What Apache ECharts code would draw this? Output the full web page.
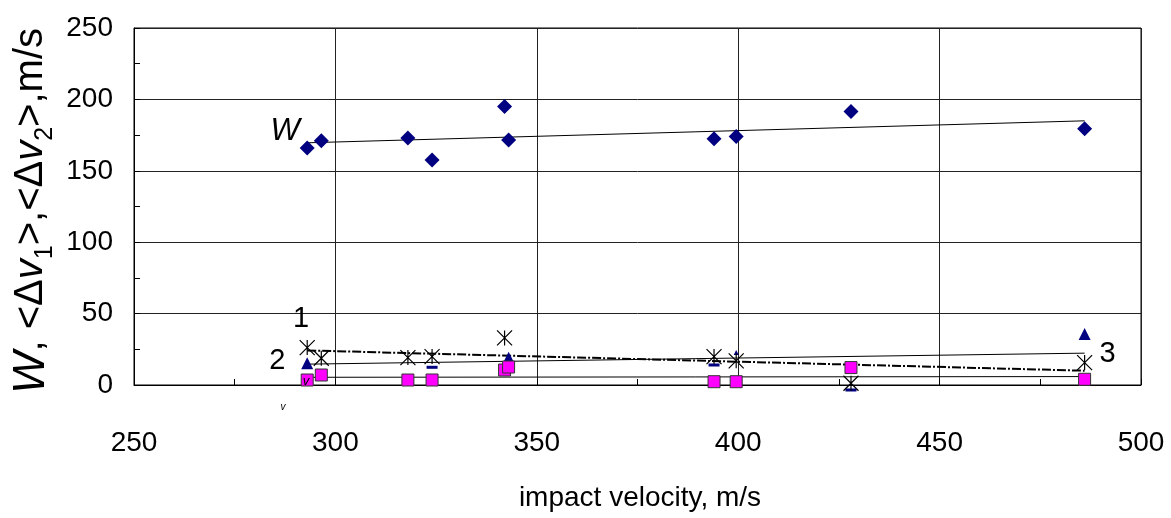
<!DOCTYPE html>
<html>
<head>
<meta charset="utf-8">
<script src="https://cdn.jsdelivr.net/npm/echarts@6/dist/echarts.min.js"></script>
<style>html,body{margin:0;padding:0;background:#fff;}#c{width:1171px;height:518px;}</style>
</head>
<body>
<div id="c"></div>
<script>
// ---- data ----
const impactVelocity = [293, 296.5, 318, 324, 342, 343, 394, 399.5, 428, 486];
const W      = [166, 171, 173, 157.5, 195, 171.5, 172.5, 174, 191.5, 179.5];
const dv1    = [26.2, 18.7, 19.2, 19.9, 33, null, 19.9, 16.9, 1.2, 15.7];      // asterisks
const dv2    = [15.2, null, null, null, null, 19, null, null, null, 35.8];     // triangles
const dv2Tip = [null, null, null, null, null, null, null, 22.8, null, null];   // partly hidden triangle
const dashes = [null, null, null, 12.4, null, null, 14, null, -3.5, null];     // short blue dashes
const dv3    = [3.5, 7, 3.5, 3.5, 10.5, 12.6, 2.3, 2.3, 12.2, 4];              // squares
const trendX   = [293, 486];
const trendW   = [169.6, 185];
const trend1   = [24.2, 10];
const trend2   = [14.6, 22.3];
const trend3   = [5.4, 5.9];
const xTicks = [250, 300, 350, 400, 450, 500];
const yTicks = [0, 50, 100, 150, 200, 250];
const annoText = ['W', '1', '2', '3', 'v', 'v'];
const annoX    = [287.5, 291.5, 285.6, 491.7, 287, 292.7];
const annoY    = [177.5, 46.5, 17, 21.8, -15.4, 2.6];
const annoSize = [31, 29, 29, 29, 10, 13];

const pairs = (xs, ys) => xs.map((x, i) => [x, ys[i]]).filter(p => p[1] !== null);

const chart = echarts.init(document.getElementById('c'), null, {renderer: 'canvas'});
const FONT = "'Liberation Sans', Arial, sans-serif";

const axisCommon = {
  axisLine: {show: true, lineStyle: {color: '#000', width: 1}},
  axisTick: {show: true, inside: true, length: 6, lineStyle: {color: '#000'}},
  minorTick: {show: true, splitNumber: 2, length: 6, lineStyle: {color: '#000'}},
  splitLine: {show: true, lineStyle: {color: '#222', width: 1}},
};

chart.setOption({
  animation: false,
  backgroundColor: '#fff',
  grid: {left: 134, right: 30, top: 28, bottom: 133, show: true, borderColor: '#000', borderWidth: 1},
  xAxis: Object.assign({
    type: 'value', min: xTicks[0], max: xTicks[xTicks.length - 1], interval: 50,
    axisLabel: {color: '#000', fontSize: 28, fontFamily: FONT, margin: 44}
  }, axisCommon),
  yAxis: Object.assign({
    type: 'value', min: yTicks[0], max: yTicks[yTicks.length - 1], interval: 50,
    axisLabel: {color: '#000', fontSize: 28, fontFamily: FONT, margin: 21}
  }, axisCommon),
  graphic: [
    {
      type: 'text', x: 640, y: 498,
      style: {text: 'impact velocity, m/s', fill: '#000', font: '28px ' + FONT, align: 'center', verticalAlign: 'middle'}
    },
    {
      type: 'text', x: 31, y: 211, rotation: Math.PI / 2,
      style: {
        text: '{wi|W}{n|, <Δ}{vi|v}{sub|1}{n|>,<Δ}{vi|v}{sub|2}{n|>,m/s}',
        fill: '#000', align: 'center', verticalAlign: 'middle',
        rich: {
          wi: {fontSize: 45, fontStyle: 'italic', fontFamily: FONT, lineHeight: 54, fill: '#000'},
          n: {fontSize: 40, fontFamily: FONT, lineHeight: 54, fill: '#000'},
          vi: {fontSize: 40, fontStyle: 'italic', fontFamily: FONT, lineHeight: 54, fill: '#000'},
          sub: {fontSize: 25, fontFamily: FONT, lineHeight: 25, verticalAlign: 'bottom', fill: '#000'}
        }
      }
    }
  ],
  series: [
    {type: 'line', data: pairs(trendX, trendW), showSymbol: false, symbol: 'none', lineStyle: {color: '#000', width: 1}, z: 3},
    {type: 'line', data: pairs(trendX, trend1), showSymbol: false, symbol: 'none', lineStyle: {color: '#000', width: 2, type: [9, 2, 2, 2]}, z: 3},
    {type: 'line', data: pairs(trendX, trend2), showSymbol: false, symbol: 'none', lineStyle: {color: '#000', width: 1}, z: 3},
    {type: 'line', data: pairs(trendX, trend3), showSymbol: false, symbol: 'none', lineStyle: {color: '#000', width: 1}, z: 3},
    {type: 'scatter', data: pairs(impactVelocity, W), symbol: 'diamond', symbolSize: 15, itemStyle: {color: '#000080', opacity: 1}, z: 4},
    {type: 'scatter', data: pairs(impactVelocity, dv2), symbol: 'triangle', symbolSize: 12, itemStyle: {color: '#000080', opacity: 1}, z: 4},
    {type: 'scatter', data: pairs(impactVelocity, dv2Tip), symbol: 'triangle', symbolSize: 5, itemStyle: {color: '#000080', opacity: 1}, z: 4},
    {type: 'scatter', clip: false, data: pairs(impactVelocity, dashes), symbol: 'rect', symbolSize: [11, 3], itemStyle: {color: '#000080', opacity: 1}, z: 4},
    {type: 'scatter', data: pairs(impactVelocity, dv1), symbol: 'path://M0,0L10,10M10,0L0,10M5,0L5,10', symbolSize: 15,
      itemStyle: {color: 'rgba(0,0,0,0)', borderColor: '#000', borderWidth: 1.2, opacity: 1}, z: 5},
    {type: 'scatter', data: pairs(impactVelocity, dv3), symbol: 'rect', symbolSize: 12,
      itemStyle: {color: '#FF00FF', borderColor: '#333', borderWidth: 1, opacity: 1}, z: 6},
    {type: 'scatter', clip: false, symbol: 'circle', symbolSize: 1, z: 7, silent: true,
      itemStyle: {color: 'rgba(0,0,0,0)', opacity: 1},
      data: annoText.map((t, i) => ({
        value: [annoX[i], annoY[i]],
        label: {show: true, position: 'inside', formatter: t, color: '#000', fontFamily: FONT,
          fontSize: annoSize[i], fontStyle: (t === 'W' || t === 'v') ? 'italic' : 'normal'}
      }))
    }
  ]
});
</script>
</body>
</html>
